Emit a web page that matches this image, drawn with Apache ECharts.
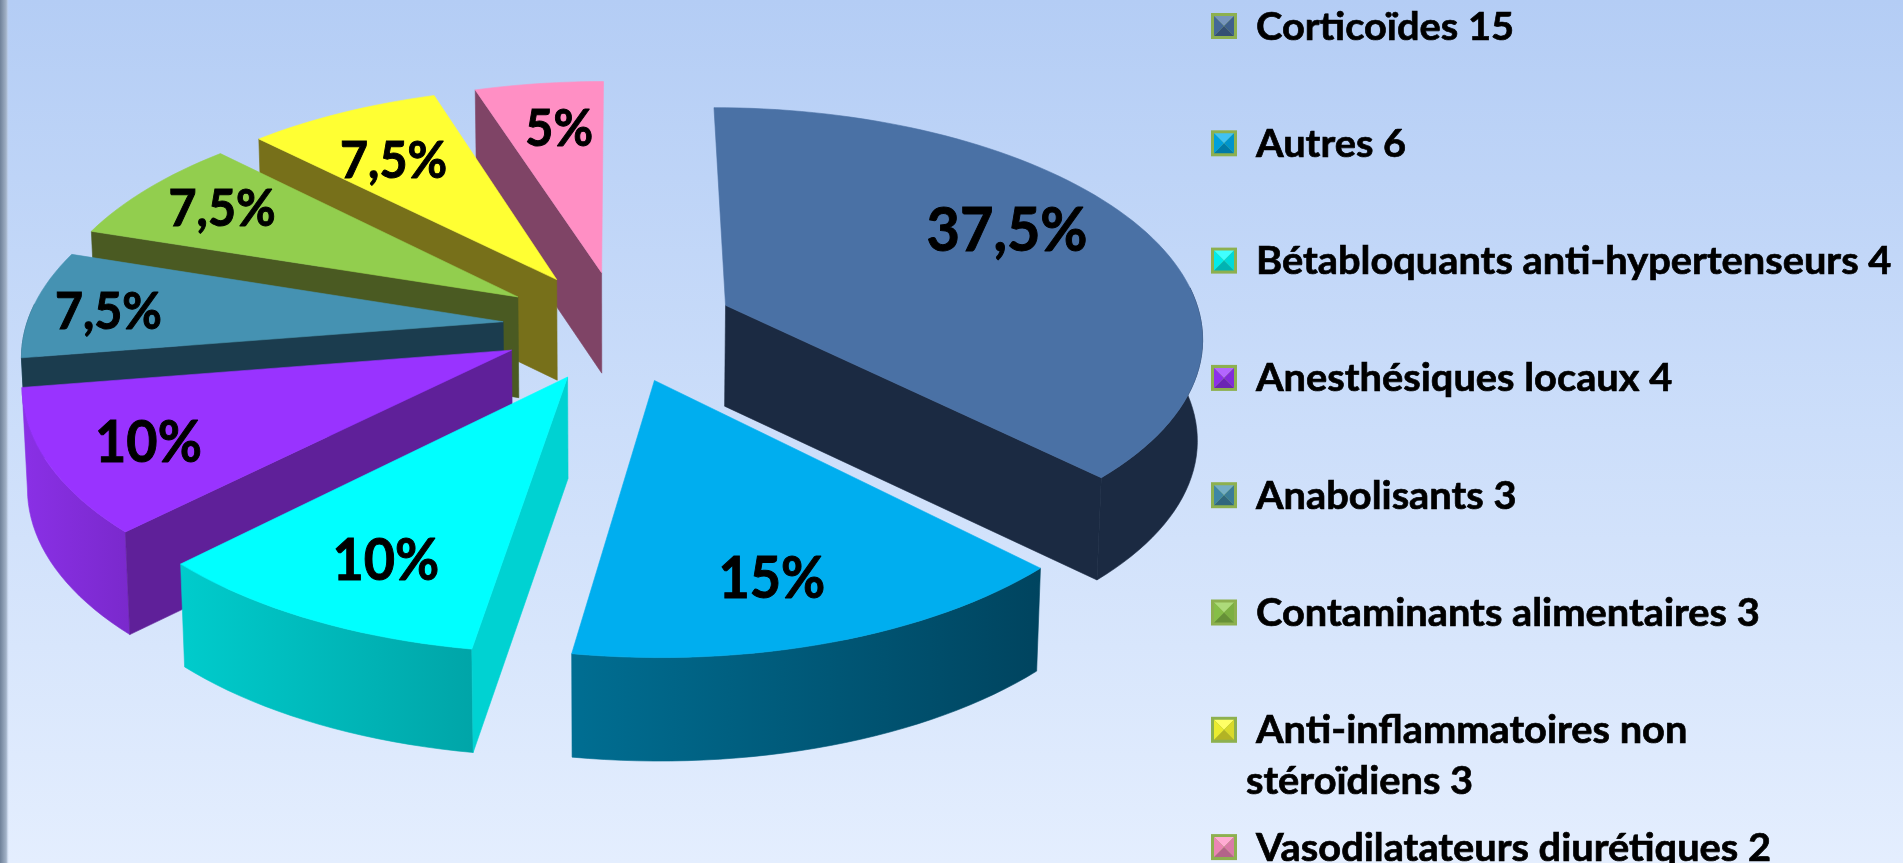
<!DOCTYPE html>
<html><head><meta charset="utf-8">
<style>html,body{margin:0;padding:0;overflow:hidden}#c{width:1903px;height:863px}</style>
<script src="https://cdn.jsdelivr.net/npm/echarts@6/dist/echarts.min.js"></script>
</head><body><div id="c"></div>
<script>
// ---- data ----
const categories = ['Corticoïdes','Autres','Bétabloquants anti-hypertenseurs','Anesthésiques locaux','Anabolisants','Contaminants alimentaires','Anti-inflammatoires non\nstéroïdiens','Vasodilatateurs diurétiques'];
const counts = [15,6,4,4,3,3,3,2];
const percentLabels = ['37,5%','15%','10%','10%','7,5%','7,5%','7,5%','5%'];
// ---- styles ----
const topColors  = ['#4A71A5','#00AEEF','#00FFFF','#9933FF','#4592B2','#92CE4E','#FFFF33','#FF8FC4'];
const rimColorsA = ['#1B2A42','#006E92','#00CCCC','#8A30E6','#2A5F77','#5E8232','#A8A820','#A85F86'];
const rimColorsB = ['#1B2A42','#00445F','#00A5A8','#7A29CC','#2A5F77','#5E8232','#A8A820','#A85F86'];
const cutColors  = ['#1B2A42','#00445F','#00D2D2','#5F2099','#1B3C4E','#4A5A22','#77701A','#7F4466'];
const labelNudge = [[12,-20],[6,39],[-19,36],[-72,21],[-91,3],[-55,-16],[-23,-6],[0,-16]];
const labelSizes = [62,58,58,58,52,52,52,52];
const sliceShift = [[2,1],[-1,2],[2,2],[-4,0],[-2,1],[-5,0],[-4,0],[0,0]];
const paintOrder = [7,6,5,0,4,3,2,1];
// ---- projection ----
const CX=619, CY=325, RX=477, RY=227.5, K=0.126, EXPLODE=0.24, DEPTH=101;
function project(X,Y,low,sh){
  const s=1/(1-K*Y);
  let x=CX+RX*X*s+sh[0], y=CY+RY*Y*s+sh[1];
  if(low){ y+=DEPTH*(1+0.02*Y); x+=(CX-x)*0.009; }
  return [x,y];
}
const total=counts.reduce((a,b)=>a+b,0);
const starts=[]; counts.reduce((acc,v,i)=>{starts[i]=acc;return acc+v;},0);
function dir(a){return [Math.sin(a),-Math.cos(a)];}

function renderSlice(params,api){
  const i=params.dataIndex, v=api.value(0), sh=sliceShift[i];
  const a0=starts[i]/total*2*Math.PI, a1=(starts[i]+v)/total*2*Math.PI, mid=(a0+a1)/2;
  const m=dir(mid), ax=m[0]*EXPLODE, ay=m[1]*EXPLODE;
  const n=Math.max(6,Math.ceil((a1-a0)/0.03));
  const rim=[], front=[];
  for(let j=0;j<=n;j++){
    const a=a0+(a1-a0)*j/n, d=dir(a), p=[ax+d[0],ay+d[1]];
    rim.push(p);
    if(Math.cos(a)<0.1) front.push(p);
  }
  const rank=paintOrder.indexOf(i), z=rank*10+1;
  const children=[];
  const poly=(pts,fill,zz)=>children.push({type:'polygon',z2:z+zz,shape:{points:pts},style:{fill:fill,stroke:fill,lineWidth:0.6}});
  const topRim=rim.map(p=>project(p[0],p[1],false,sh));
  // outer wall, only the part turned towards the viewer
  if(front.length>1){
    const a=front.map(p=>project(p[0],p[1],false,sh)), b=front.map(p=>project(p[0],p[1],true,sh)).reverse();
    poly(a.concat(b),{type:'linear',x:0,y:0,x2:1,y2:0,colorStops:[{offset:0,color:rimColorsA[i]},{offset:1,color:rimColorsB[i]}]},0);
  }
  // radial cuts
  const cut=p=>poly([project(ax,ay,false,sh),project(p[0],p[1],false,sh),project(p[0],p[1],true,sh),project(ax,ay,true,sh)],cutColors[i],1);
  if(Math.sin(a0)<-1e-6) cut(rim[0]);
  if(Math.sin(a1)>1e-6) cut(rim[n]);
  // top surface
  poly([project(ax,ay,false,sh)].concat(topRim),topColors[i],2);
  // label
  const lp=project(ax+m[0]*0.65,ay+m[1]*0.65,false,[0,0]);
  children.push({type:'text',z2:1000,x:lp[0]+labelNudge[i][0],y:lp[1]+labelNudge[i][1],scaleX:0.93,
    style:{text:percentLabels[i],font:'bold '+labelSizes[i]+'px Lato',fill:'#000',stroke:'#000',lineWidth:1,align:'center',verticalAlign:'middle'}});
  return {type:'group',children:children};
}
// ---- legend rows ----
const LEG_X=1211, LEG_Y=26, LEG_STEP=117.3, ICON=26, TEXT_X=1256, WRAP_X=1246, LINE_H=51, LEG_FONT=39, LEG_SCALE=1.02;
function mix(hex,t){const c=parseInt(hex.slice(1),16),tg=t<0?0:255,a=Math.abs(t);
  const f=s=>Math.round(((c>>s)&255)*(1-a)+tg*a);return 'rgb('+f(16)+','+f(8)+','+f(0)+')';}
function renderLegend(params,api){
  const i=params.dataIndex, y=LEG_Y+LEG_STEP*i, c=topColors[i], x0=LEG_X,x1=LEG_X+ICON,y0=y-ICON/2,y1=y+ICON/2,b=3,mx=(x0+x1)/2,my=(y0+y1)/2;
  const tri=(pts,f)=>({type:'polygon',shape:{points:pts},style:{fill:f}});
  const ch=[
    {type:'rect',shape:{x:x0,y:y0,width:ICON,height:ICON},style:{fill:'#8DB04F'}},
    tri([[x0+b,y0+b],[x1-b,y0+b],[mx,my]],mix(c,0.25)),
    tri([[x0+b,y1-b],[x1-b,y1-b],[mx,my]],mix(c,-0.3)),
    tri([[x0+b,y0+b],[x0+b,y1-b],[mx,my]],mix(c,-0.08)),
    tri([[x1-b,y0+b],[x1-b,y1-b],[mx,my]],mix(c,-0.15))
  ];
  const lines=(categories[i]+' '+counts[i]).split('\n');
  lines.forEach((t,j)=>ch.push({type:'text',x:j?WRAP_X:TEXT_X,y:y+1+j*LINE_H,scaleX:LEG_SCALE,
    style:{text:t,font:'bold '+LEG_FONT+'px Lato',fill:'#000',stroke:'#000',lineWidth:0.7,align:'left',verticalAlign:'middle'}}));
  return {type:'group',children:ch};
}
const chart=echarts.init(document.getElementById('c'),null,{renderer:'canvas'});
chart.setOption({
  animation:false,
  backgroundColor:{type:'linear',x:0,y:0,x2:0,y2:1,colorStops:[{offset:0,color:'#B4CDF5'},{offset:0.5,color:'#CCDEFA'},{offset:1,color:'#E4EEFE'}]},
  graphic:[{type:'rect',left:0,top:0,z:-1,shape:{width:9,height:863},style:{fill:{type:'linear',x:0,y:0,x2:1,y2:0,colorStops:[{offset:0,color:'#6F8199'},{offset:0.7,color:'#A3B3C8'},{offset:1,color:'rgba(200,215,240,0)'}]}}}],
  series:[
    {type:'custom',coordinateSystem:'none',silent:true,renderItem:renderSlice,data:counts.map(v=>[v])},
    {type:'custom',coordinateSystem:'none',silent:true,renderItem:renderLegend,data:counts.map(v=>[v])}
  ]
});
</script></body></html>
